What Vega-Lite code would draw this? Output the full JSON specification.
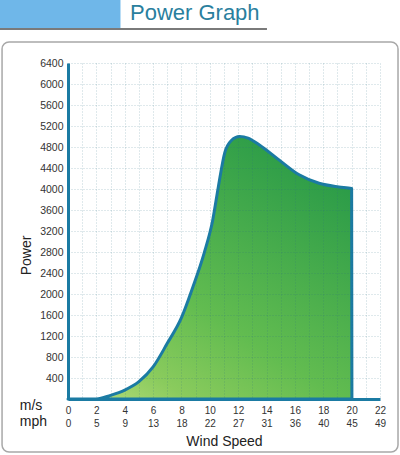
{
  "$schema": "https://vega.github.io/schema/vega-lite/v6.json",
  "width": 312,
  "height": 336,
  "autosize": {"type": "none"},
  "padding": {"left": 68, "top": 63, "right": 20, "bottom": 56},
  "background": "white",
  "config": {
    "view": {"stroke": null},
    "font": "Liberation Sans",
    "axis": {"labelOverlap": false, "labelFlush": false, "ticks": false, "gridColor": "#2a6a80", "gridOpacity": 0.3, "gridDash": [1, 2], "gridWidth": 1, "domainColor": "#1b7ba3", "domainWidth": 3}
  },
  "encoding": {
    "x": {
      "type": "quantitative",
      "scale": {"domain": [0, 22], "nice": false, "zero": false},
      "axis": {
        "values": [0,1,2,3,4,5,6,7,8,9,10,11,12,13,14,15,16,17,18,19,20,21,22],
        "labelExpr": "datum.value % 2 == 0 ? [format(datum.value, 'd'), ['0','5','9','13','18','22','27','31','36','40','45','49'][datum.value/2]] : ''",
        "labelFont": "Liberation Sans", "labelFontSize": 10, "labelColor": "#333", "labelLineHeight": 13,
        "labelPadding": 6, "labelOverlap": false, "zindex": 1,
        "title": "Wind Speed", "titleFont": "Liberation Sans", "titleFontSize": 14, "titleFontWeight": "normal",
        "titleColor": "#222", "titleBaseline": "alphabetic", "titleY": 46, "titleX": 156
      }
    },
    "y": {
      "type": "quantitative",
      "scale": {"domain": [0, 6400], "nice": false, "zero": false},
      "axis": {
        "values": [400,800,1200,1600,2000,2400,2800,3200,3600,4000,4400,4800,5200,5600,6000,6400],
        "labelExpr": "format(datum.value, 'd')",
        "labelFont": "Liberation Sans", "labelFontSize": 10.5, "labelColor": "#333", "labelPadding": 5,
        "labelOverlap": false, "zindex": 1,
        "title": "Power", "titleFont": "Liberation Sans", "titleFontSize": 14, "titleFontWeight": "normal",
        "titleColor": "#222", "titleAngle": -90, "titleAlign": "center", "titleBaseline": "bottom",
        "titleX": -35, "titleY": 192
      }
    }
  },
  "layer": [
    {
      "data": {"values": [
        {"ms": 0, "power": 0}, {"ms": 2, "power": 0}, {"ms": 3, "power": 70}, {"ms": 4, "power": 170},
        {"ms": 5, "power": 330}, {"ms": 6, "power": 610}, {"ms": 7, "power": 1060}, {"ms": 8, "power": 1550},
        {"ms": 8.8, "power": 2130}, {"ms": 9.6, "power": 2780}, {"ms": 10.2, "power": 3400}, {"ms": 10.6, "power": 4040},
        {"ms": 11.05, "power": 4690}, {"ms": 11.5, "power": 4920}, {"ms": 12.1, "power": 5000}, {"ms": 12.7, "power": 4970},
        {"ms": 13.5, "power": 4840}, {"ms": 14.9, "power": 4550}, {"ms": 16.3, "power": 4270}, {"ms": 17.7, "power": 4110},
        {"ms": 19.1, "power": 4040}, {"ms": 20, "power": 4010}, {"ms": 20.02, "power": 0}
      ]},
      "mark": {
        "type": "area",
        "interpolate": "monotone",
        "stroke": "#1b7ba3",
        "strokeWidth": 3,
        "strokeJoin": "round",
        "fill": {"gradient": "linear", "x1": 0, "y1": 1, "x2": 0.7, "y2": 0,
          "stops": [{"offset": 0, "color": "#bde081"}, {"offset": 0.2, "color": "#8acb5d"}, {"offset": 0.45, "color": "#62bc50"}, {"offset": 1, "color": "#2c9c48"}]}
      },
      "encoding": {
        "x": {"field": "ms"},
        "y": {"field": "power"}
      }
    },
    {
      "data": {"values": [{}]},
      "mark": {"type": "rect", "fill": null, "stroke": "#a8a8a8", "strokeWidth": 1.5, "cornerRadius": 7},
      "encoding": {
        "x": {"datum": -4.65},
        "x2": {"datum": 23.27},
        "y": {"datum": 6800},
        "y2": {"datum": -1010}
      }
    },
    {
      "data": {"values": [{}]},
      "mark": {"type": "rect", "fill": "#6fb7e9", "stroke": null},
      "encoding": {
        "x": {"datum": -4.8},
        "x2": {"datum": 3.7},
        "y": {"datum": 7600},
        "y2": {"datum": 7060}
      }
    },
    {
      "data": {"values": [{}]},
      "mark": {"type": "rule", "stroke": "#7a7a7a", "strokeWidth": 2},
      "encoding": {
        "x": {"datum": -4.8},
        "x2": {"datum": 14.03},
        "y": {"datum": 7048}
      }
    },
    {
      "data": {"values": [{}]},
      "mark": {"type": "text", "text": "Power Graph", "align": "left", "baseline": "alphabetic", "fontSize": 22, "font": "Liberation Sans", "color": "#2a7f9e"},
      "encoding": {
        "x": {"datum": 4.37},
        "y": {"datum": 7219}
      }
    },
    {
      "data": {"values": [{}]},
      "mark": {"type": "text", "text": "m/s", "align": "left", "baseline": "alphabetic", "fontSize": 14, "font": "Liberation Sans", "color": "#222"},
      "encoding": {
        "x": {"datum": -3.4},
        "y": {"datum": -215}
      }
    },
    {
      "data": {"values": [{}]},
      "mark": {"type": "text", "text": "mph", "align": "left", "baseline": "alphabetic", "fontSize": 14, "font": "Liberation Sans", "color": "#222"},
      "encoding": {
        "x": {"datum": -3.4},
        "y": {"datum": -520}
      }
    }
  ]
}
